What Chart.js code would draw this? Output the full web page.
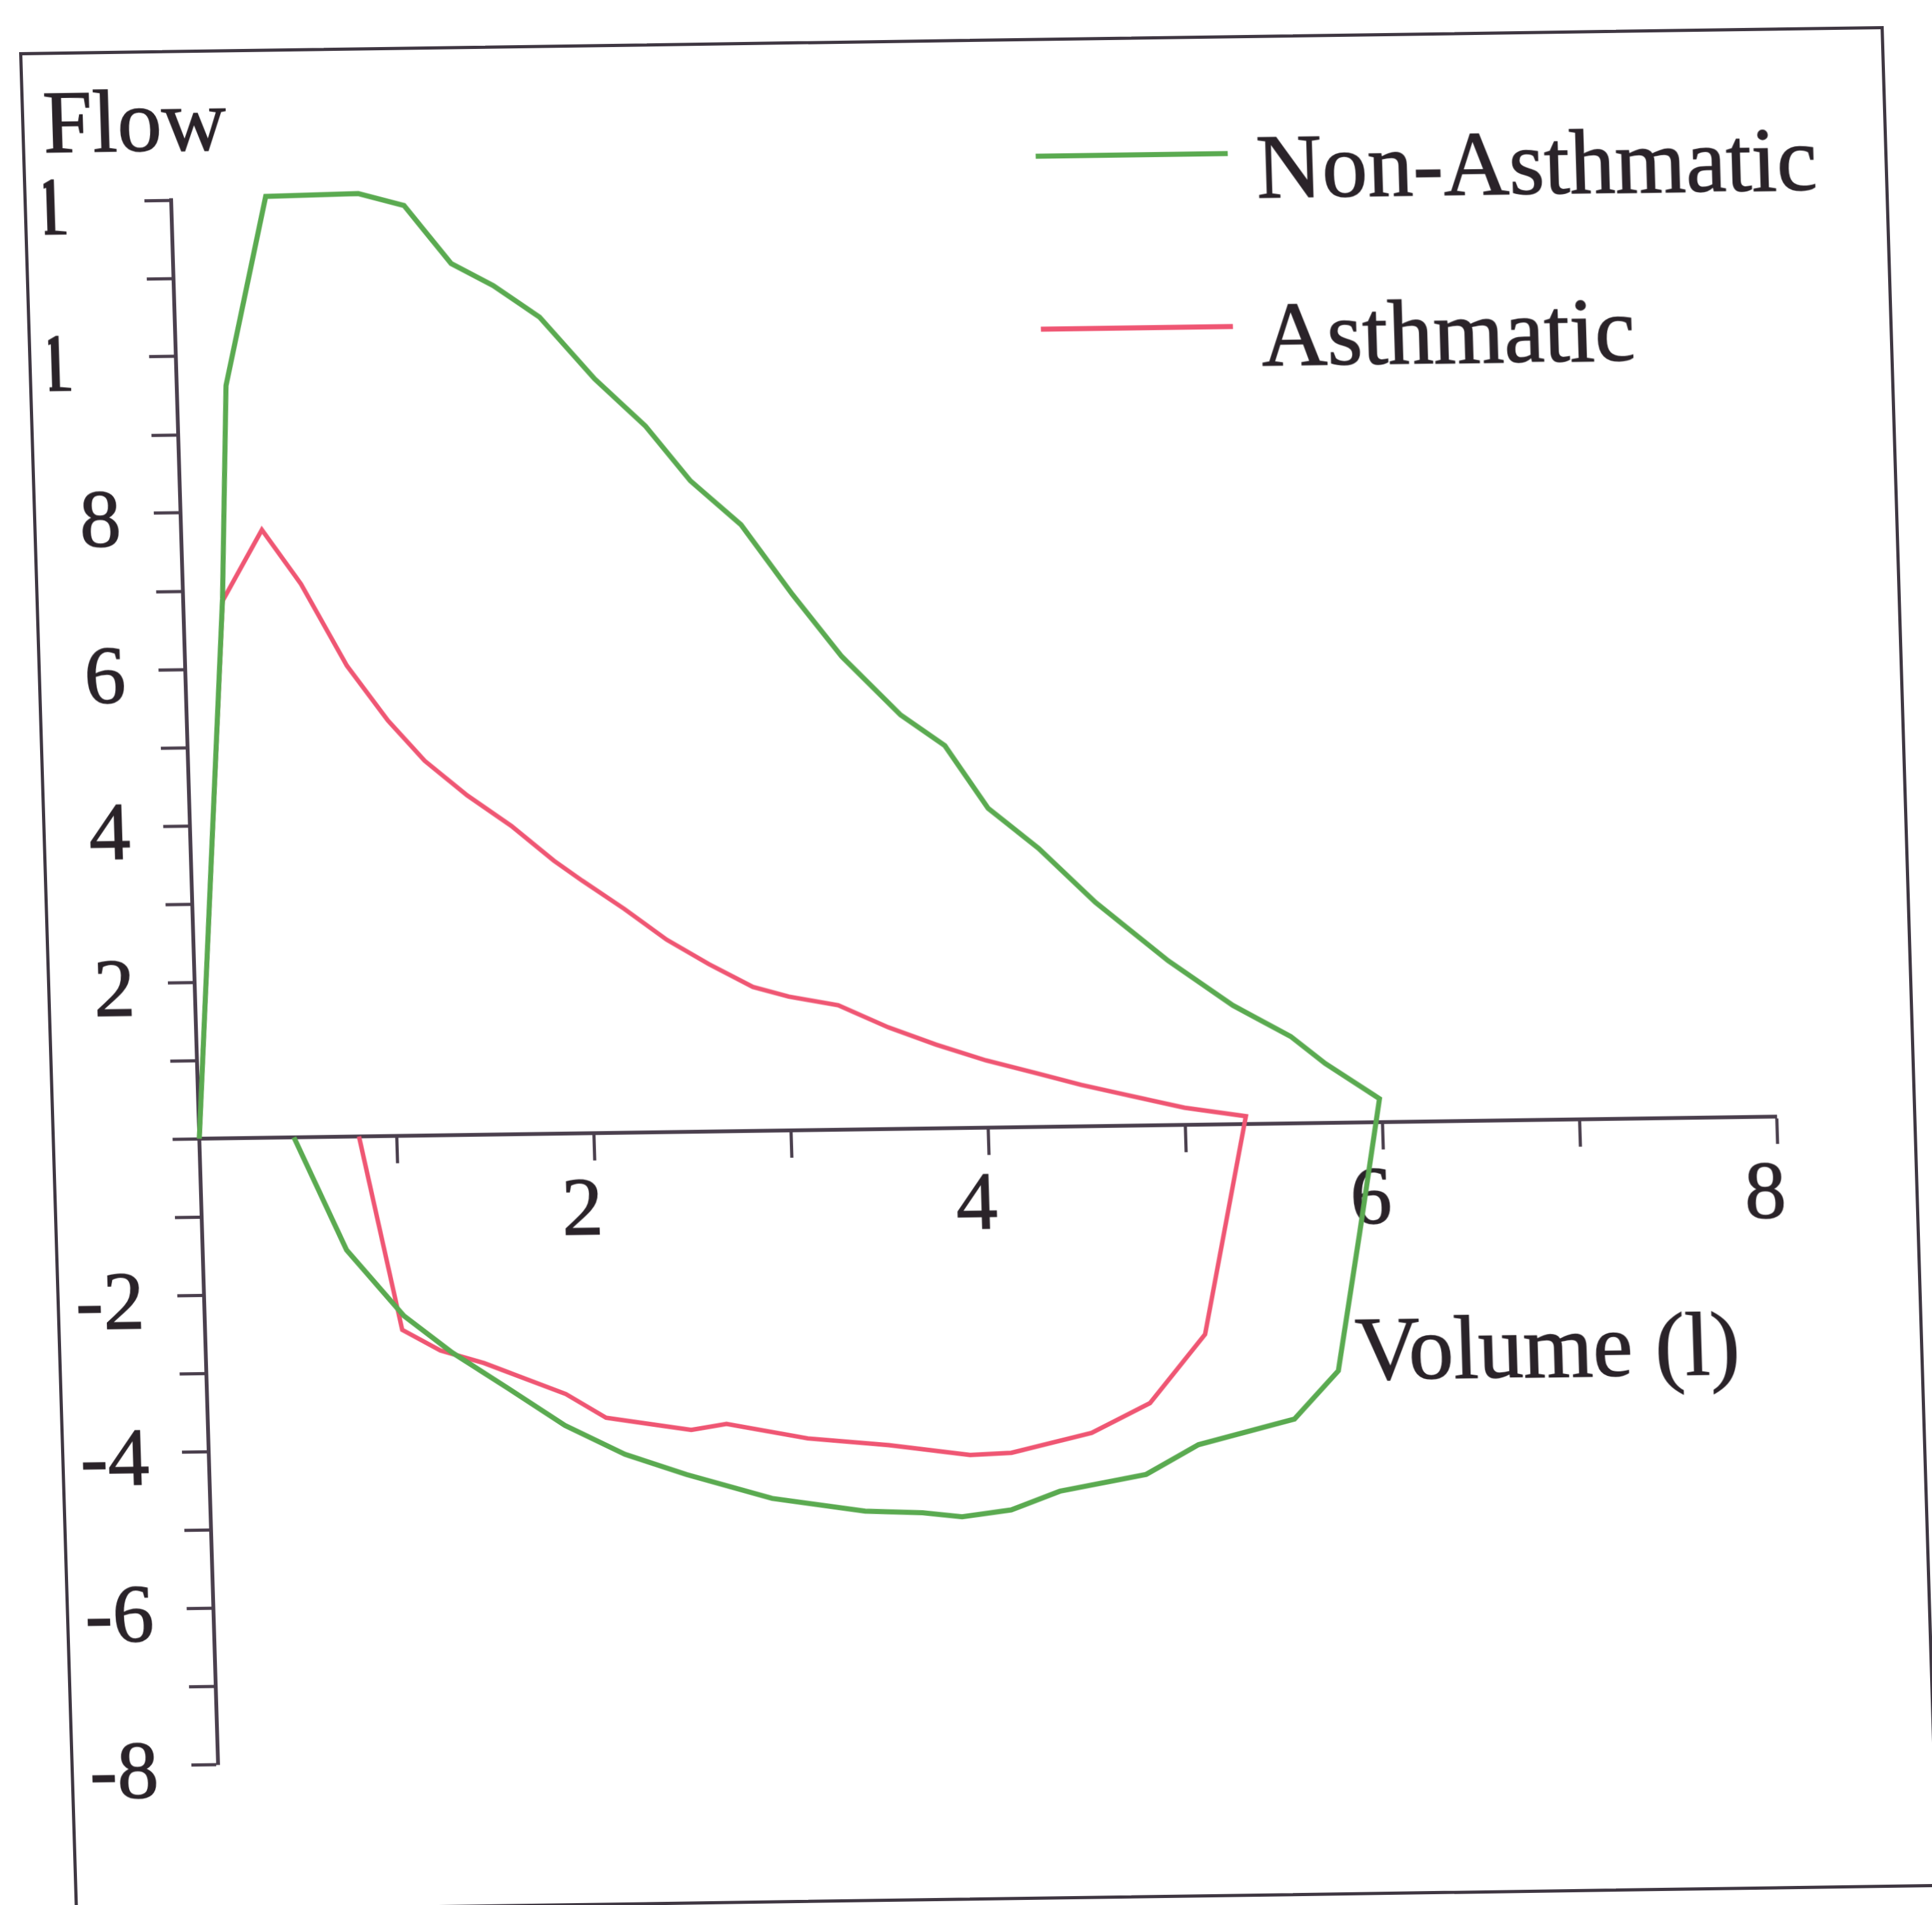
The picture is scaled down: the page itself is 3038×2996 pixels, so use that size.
<!DOCTYPE html>
<html>
<head>
<meta charset="utf-8">
<script src="https://cdn.jsdelivr.net/npm/chart.js@4.4.1/dist/chart.umd.min.js"></script>
<style>
  html, body { margin: 0; padding: 0; background: #fff; overflow: hidden; }
  body { width: 3038px; height: 2996px; position: relative; }
  /* cadre du graphique, légèrement de biais comme sur la feuille */
  #frame {
    position: absolute;
    left: 30px;
    top: 82px;
    width: 2922px;
    height: 2917px;
    border: 5px solid #3f3742;
    transform-origin: 0 0;
    transform: matrix(1, -0.014, 0.03, 1, 0, 0);
  }
  #loop { display: block; }
</style>
</head>
<body>
<div id="frame"><canvas id="loop" width="2922" height="2917"></canvas></div>
<script>
// boucle débit-volume : expiration puis inspiration
const nonAsthVolume = [0, 0.20, 0.25, 0.48, 0.95, 1.18, 1.41, 1.62, 1.85, 2.12, 2.37, 2.59, 2.84, 3.09, 3.33, 3.62, 3.84, 4.05, 4.30, 4.58, 4.94, 5.26, 5.55, 5.72, 5.99,
    5.87, 5.74, 5.51, 5.02, 4.75, 4.31, 4.06, 3.81, 3.61, 3.32, 2.85, 2.42, 2.11, 1.81, 1.53, 1.25, 1.01, 0.73, 0.48];
const nonAsthFlow = [0, 6.9, 9.62, 12.03, 12.05, 11.89, 11.14, 10.85, 10.44, 9.64, 9.03, 8.32, 7.75, 6.85, 6.05, 5.29, 4.89, 4.08, 3.56, 2.86, 2.10, 1.52, 1.11, 0.76, 0.30,
    -1.40, -3.17, -3.78, -4.09, -4.46, -4.66, -4.89, -4.97, -4.91, -4.88, -4.70, -4.38, -4.11, -3.73, -3.25, -2.78, -2.30, -1.45, 0];

const asthVolume = [0, 0.20, 0.41, 0.60, 0.82, 1.02, 1.20, 1.41, 1.63, 1.84, 1.98, 2.19, 2.40, 2.61, 2.83, 3.01, 3.26, 3.51, 3.75, 4.00, 4.25, 4.48, 4.68, 5.00, 5.31,
    5.07, 4.78, 4.48, 4.07, 3.86, 3.45, 3.04, 2.63, 2.45, 2.22, 2.02, 1.82, 1.41, 1.19, 1.00, 0.81];
const asthFlow = [0, 6.87, 7.77, 7.07, 6.02, 5.31, 4.79, 4.34, 3.94, 3.49, 3.23, 2.86, 2.46, 2.14, 1.84, 1.71, 1.59, 1.30, 1.07, 0.86, 0.69, 0.53, 0.41, 0.22, 0.10,
    -2.68, -3.55, -3.92, -4.16, -4.18, -4.04, -3.94, -3.74, -3.81, -3.72, -3.64, -3.33, -2.92, -2.75, -2.48, 0];

const yTickValues = [12, 10, 8, 6, 4, 2, -2, -4, -6, -8];
const yTickText = ['1', '1', '8', '6', '4', '2', '-2', '-4', '-6', '-8'];
const xTickValues = [2, 4, 6, 8];
const xTickText = ['2', '4', '6', '8'];

const GREEN = '#5aaa50';
const RED = '#ef5673';
const AXIS = '#4a3f4d';
const INK = '#2a2329';
const SERIF = '"Liberation Serif", "Times New Roman", serif';

function toPoints(xs, ys) {
    return xs.map((x, i) => ({ x, y: ys[i] }));
}

// titres d'axes + légende dessinés à la main
const loopLabels = {
    id: 'loopLabels',
    afterDraw(chart) {
        const { ctx, chartArea: a } = chart;
        ctx.save();
        ctx.fillStyle = INK;
        ctx.strokeStyle = INK;
        ctx.lineWidth = 1.5;
        ctx.textAlign = 'left';
        ctx.textBaseline = 'alphabetic';

        const text = (s, x, y) => {
            ctx.fillText(s, x, y);
            ctx.strokeText(s, x, y);
        };

        ctx.font = `140px ${SERIF}`;
        text('Flow', a.left - 198, a.top - 78);

        ctx.font = `141px ${SERIF}`;
        text('Volume (l)', a.left + 1807, a.top + 1880);

        const rows = [[-50, 20], [222, 284]];
        ctx.font = `143px ${SERIF}`;
        chart.data.datasets.forEach((ds, i) => {
            const [ly, ty] = rows[i];
            ctx.save();
            ctx.strokeStyle = ds.borderColor;
            ctx.lineWidth = 8;
            ctx.beginPath();
            ctx.moveTo(a.left + 1361, a.top + ly);
            ctx.lineTo(a.left + 1663, a.top + ly);
            ctx.stroke();
            ctx.restore();
            text(ds.label, a.left + 1707, a.top + ty);
        });
        ctx.restore();
    }
};

const tickFont = { family: SERIF, size: 130 };

new Chart(document.getElementById('loop'), {
    type: 'scatter',
    data: {
        datasets: [{
            label: 'Non-Asthmatic',
            data: toPoints(nonAsthVolume, nonAsthFlow),
            borderColor: GREEN,
            backgroundColor: GREEN,
            showLine: true,
            borderWidth: 8,
            pointRadius: 0,
            tension: 0,
            clip: false
        }, {
            label: 'Asthmatic',
            data: toPoints(asthVolume, asthFlow),
            borderColor: RED,
            backgroundColor: RED,
            showLine: true,
            borderWidth: 7,
            pointRadius: 0,
            tension: 0,
            clip: false
        }]
    },
    options: {
        responsive: false,
        animation: false,
        layout: {
            padding: { left: 27, top: 231, right: 215, bottom: 226 }
        },
        plugins: {
            legend: { display: false },
            tooltip: { enabled: false }
        },
        scales: {
            x: {
                type: 'linear',
                position: { y: 0 },
                min: 0,
                max: 8,
                border: { display: true, color: AXIS, width: 6 },
                grid: {
                    drawOnChartArea: false,
                    drawTicks: true,
                    tickLength: 40,
                    tickWidth: 5,
                    color: AXIS
                },
                ticks: {
                    stepSize: 1,
                    autoSkip: false,
                    maxRotation: 0,
                    padding: 7,
                    labelOffset: -21,
                    color: INK,
                    textStrokeColor: INK,
                    textStrokeWidth: 1.5,
                    font: tickFont,
                    callback: v => {
                        const i = xTickValues.indexOf(v);
                        return i < 0 ? '' : xTickText[i];
                    }
                }
            },
            y: {
                type: 'linear',
                position: 'left',
                min: -8,
                max: 12,
                afterFit: s => { s.width = 200; },
                border: { display: true, color: AXIS, width: 6 },
                grid: {
                    drawOnChartArea: false,
                    drawTicks: true,
                    tickLength: 42,
                    tickWidth: 5,
                    color: AXIS
                },
                ticks: {
                    stepSize: 1,
                    autoSkip: false,
                    padding: 52,
                    labelOffset: 17,
                    color: INK,
                    textStrokeColor: INK,
                    textStrokeWidth: 1.5,
                    font: tickFont,
                    callback: v => {
                        const i = yTickValues.indexOf(v);
                        if (i < 0) return '';
                        // le « 1 » garde la place d'un second chiffre
                        return v >= 10 ? yTickText[i] + '\u00a0\u00a0' : yTickText[i];
                    }
                }
            }
        }
    },
    plugins: [loopLabels]
});
</script>
</body>
</html>
